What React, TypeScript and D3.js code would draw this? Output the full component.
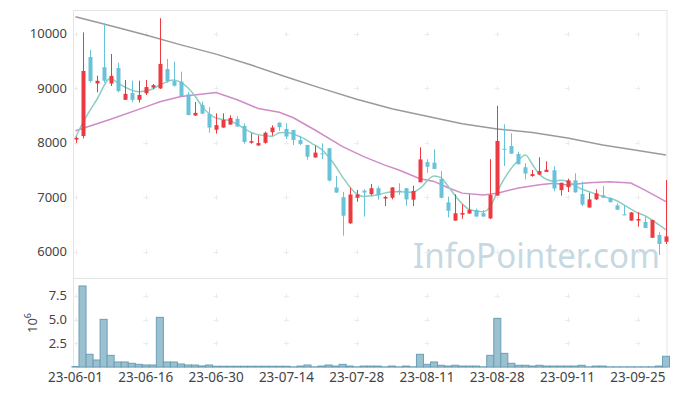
import React from 'react';
import * as d3 from 'd3';

// daily OHLC, 23-06-01 .. 23-10-05 (trading days only)
const opens = [8060, 8125, 9577, 9090, 9390, 9090, 9375, 8790, 8915, 8790, 8910, 9015, 9000, 9355, 9135, 9125, 8890, 8500, 8695, 8530,
  8240, 8280, 8335, 8440, 8310, 8000, 7950, 8000, 8195, 8370, 8255, 8235, 8050, 7960, 7730, 7805, 7900, 7180, 7000, 6520,
  6990, 7120, 7055, 7165, 6975, 6990, 7120, 7165, 6955, 7275, 7645, 7635, 7335, 6905, 6570, 6680, 6700, 6765, 6705, 6610,
  7030, 7890, 7940, 7795, 7550, 7390, 7415, 7465, 7495, 7130, 7185, 7310, 7060, 6810, 6960, 7035, 6985, 6850, 6685, 6570,
  6570, 6545, 6255, 6305, 6180];
const highs = [8110, 10030, 9706, 9234, 10197, 9632, 9472, 9154, 9142, 9142, 9154, 9080, 10290, 9540, 9491, 9308, 8936, 8750, 8756, 8653,
  8542, 8542, 8505, 8487, 8358, 8175, 8137, 8205, 8321, 8375, 8358, 8240, 8125, 7965, 7947, 7990, 7905, 7390, 7096, 7175,
  7133, 7145, 7243, 7200, 7028, 7182, 7256, 7170, 7212, 7918, 7697, 7880, 7482, 7010, 7053, 6870, 7053, 6790, 6765, 7697,
  8680, 8340, 8175, 7837, 7623, 7500, 7734, 7660, 7570, 7267, 7340, 7440, 7286, 7083, 7145, 7207, 6995, 6887, 6855, 6725,
  6723, 6640, 6585, 6355, 7316];
const lows = [8000, 8080, 9105, 8928, 9105, 9044, 8928, 8787, 8745, 8740, 8879, 8990, 8990, 9105, 9031, 8836, 8505, 8498, 8530, 8186,
  8168, 8278, 8333, 8296, 7984, 7984, 7947, 7984, 8131, 8220, 8070, 7960, 7960, 7690, 7727, 7700, 7290, 7083, 6293, 6510,
  6918, 6643, 7035, 6955, 6838, 6960, 7040, 6845, 6838, 7274, 7451, 7519, 6980, 6630, 6568, 6605, 6697, 6642, 6642, 6600,
  7028, 7574, 7800, 7605, 7330, 7375, 7414, 7464, 7110, 7030, 7096, 7083, 6838, 6808, 6950, 6991, 6900, 6771, 6670, 6565,
  6458, 6434, 6250, 5938, 6140];
const closes = [8090, 9320, 9136, 9140, 9140, 9230, 8950, 8900, 8790, 8880, 9025, 9060, 9450, 9135, 9050, 8860, 8510, 8550, 8535, 8280,
  8325, 8420, 8455, 8300, 8015, 8030, 7995, 8185, 8280, 8290, 8115, 8050, 7980, 7745, 7820, 7790, 7305, 7085, 6660, 7050,
  7050, 7085, 7165, 7035, 7005, 7180, 7095, 6960, 7115, 7695, 7560, 7520, 6990, 6750, 6705, 6710, 6765, 6645, 6645, 7040,
  8035, 7870, 7800, 7605, 7435, 7425, 7480, 7505, 7160, 7265, 7310, 7090, 6865, 6960, 7070, 6990, 6910, 6770, 6675, 6720,
  6600, 6435, 6580, 6140, 6280];
// volume, millions of shares
const volumes = [0.05, 8.55, 1.34, 0.74, 5.03, 1.23, 0.53, 0.53, 0.39, 0.28, 0.21, 0.21, 5.24, 0.53, 0.53, 0.32, 0.21, 0.21, 0.11, 0.21,
  0.08, 0.08, 0.08, 0.08, 0.08, 0.08, 0.08, 0.08, 0.08, 0.08, 0.08, 0.02, 0.1, 0.21, 0.02, 0.1, 0.21, 0.1, 0.28, 0.1,
  0.02, 0.1, 0.1, 0.1, 0.02, 0.1, 0.02, 0.1, 0.02, 1.34, 0.28, 0.53, 0.18, 0.1, 0.18, 0.1, 0.1, 0.1, 0.02, 1.23,
  5.13, 1.44, 0.39, 0.18, 0.18, 0.1, 0.18, 0.1, 0.1, 0.1, 0.1, 0.1, 0.18, 0.02, 0.1, 0.1, 0.02, 0.02, 0.02, 0.02,
  0.02, 0.02, 0.02, 0.1, 1.13];

// moving averages: [day index, price]
const ma5 = [[0, 8094], [1, 8359], [3, 8787], [5, 9186], [6, 9100], [9, 8940], [11, 8990], [12, 9063], [14, 9155], [15, 9110],
  [17, 8860], [18, 8670], [20, 8455], [22, 8406], [23, 8340], [25, 8190], [26, 8150], [28, 8120], [29, 8186], [30, 8190],
  [32, 8108], [34, 7960], [35, 7880], [37, 7570], [38, 7370], [40, 7060], [41, 7015], [43, 7045], [45, 7101], [46, 7101],
  [48, 7090], [49, 7164], [51, 7390], [52, 7360], [53, 7200], [55, 6880], [56, 6775], [58, 6734], [59, 6826], [60, 7100],
  [61, 7340], [63, 7680], [64, 7776], [65, 7600], [66, 7420], [68, 7298], [69, 7310], [70, 7290], [72, 7150], [73, 7105],
  [75, 7015], [77, 6935], [78, 6860], [80, 6710], [81, 6660], [83, 6490], [84, 6400]];
const ma20 = [[0, 8223], [5, 8432], [10, 8660], [12, 8756], [15, 8850], [20, 8925], [23, 8790], [26, 8630], [29, 8560], [31, 8460],
  [34, 8240], [38, 7929], [41, 7745], [44, 7590], [46, 7500], [49, 7340], [51, 7290], [53, 7175], [55, 7075], [58, 7040],
  [60, 7072], [63, 7170], [66, 7230], [68, 7256], [70, 7225], [73, 7267], [76, 7285], [79, 7260], [81, 7130], [84, 6920]];
const ma120 = [[0, 10318], [5, 10150], [10, 9980], [15, 9800], [20, 9630], [25, 9430], [30, 9210], [35, 9000], [40, 8800], [45, 8625],
  [50, 8490], [55, 8350], [60, 8255], [65, 8190], [70, 8090], [75, 7960], [80, 7860], [84, 7776]];

const tickIdx = [0, 10, 20, 30, 40, 50, 60, 70, 80];
const tickLabels = ['23-06-01', '23-06-16', '23-06-30', '23-07-14', '23-07-28', '23-08-11', '23-08-28', '23-09-11', '23-09-25'];
const priceTicks = [6000, 7000, 8000, 9000, 10000];
const volTicks = [2.5, 5, 7.5];

const W = 677, H = 396;
const L = 73.5, R = 667;
const top = 10, priceBottom = 278, volBottom = 367;
const font = '"Noto Sans", sans-serif';

export default function App() {
  const x = d3.scaleLinear().domain([0, 84]).range([75.5, 666]);
  const y = d3.scaleLinear().domain([5515, 10441]).range([priceBottom, top]);
  const yv = d3.scaleLinear().domain([0, 9.39]).range([volBottom, priceBottom]);
  const step = x(1) - x(0);

  const line = d3.line<number[]>().x(d => x(d[0])).y(d => y(d[1]));
  const smooth = d3.line<number[]>().x(d => x(d[0])).y(d => y(d[1])).curve(d3.curveMonotoneX);

  const up = '#ec3a40';
  const down = '#68c2d8';

  // little "+" marks where the grid lines would cross
  const crosses: JSX.Element[] = [];
  tickIdx.forEach((t, i) => {
    [...priceTicks.map(v => y(v)), ...volTicks.map(v => yv(v))].forEach((yy, j) => {
      crosses.push(
        <g key={`c${i}-${j}`} stroke="#ececec" strokeWidth={1}>
          <line x1={x(t) - 2.5} x2={x(t) + 2.5} y1={Math.round(yy) + 0.5} y2={Math.round(yy) + 0.5} />
          <line x1={Math.round(x(t)) + 0.5} x2={Math.round(x(t)) + 0.5} y1={yy - 2.5} y2={yy + 2.5} />
        </g>
      );
    });
  });

  return (
    <svg width={W} height={H} style={{ position: 'absolute', left: 0, top: 0, background: '#fff' }}
      fontFamily={font}>
      {/* watermark */}
      <text x={660} y={268} textAnchor="end" fontSize={34} fill="#c6d9e3" textLength={247}
        lengthAdjust="spacingAndGlyphs">InfoPointer.com</text>

      {/* frames */}
      <rect x={L} y={top + 0.5} width={R - L} height={priceBottom - top} fill="none" stroke="#e4e4e4" />
      <rect x={L} y={priceBottom + 0.5} width={R - L} height={volBottom - priceBottom} fill="none" stroke="#e4e4e4" />
      {crosses}

      {/* moving averages */}
      <path d={line(ma120) || ''} fill="none" stroke="#9a9a9a" strokeWidth={1.5} />
      <path d={line(ma20) || ''} fill="none" stroke="#cf8cc8" strokeWidth={1.5} />
      <path d={smooth(ma5) || ''} fill="none" stroke="#8ccfc2" strokeWidth={1.5} />

      {/* candles */}
      {opens.map((o, i) => {
        const c = closes[i];
        const col = c >= o ? up : down;
        const cx = Math.round(x(i)) + 0.5;
        const y1 = y(Math.max(o, c));
        const h = Math.max(1, y(Math.min(o, c)) - y1);
        return (
          <g key={`k${i}`}>
            <line x1={cx} x2={cx} y1={y(highs[i])} y2={y(lows[i])} stroke={col} strokeWidth={1} />
            <rect x={cx - 2} y={y1} width={4} height={h} fill={col} />
          </g>
        );
      })}

      {/* volume */}
      {volumes.map((v, i) => (
        <rect key={`v${i}`} x={x(i) - step / 2} y={yv(v)} width={step} height={volBottom - yv(v)}
          fill="#9bc1d0" stroke="#6b9fb5" strokeWidth={1} />
      ))}

      {/* price axis labels */}
      {priceTicks.map(t => (
        <text key={`p${t}`} x={67} y={y(t) + 4.5} textAnchor="end" fontSize={13} fill="#444">{t}</text>
      ))}
      {volTicks.map(t => (
        <text key={`vt${t}`} x={67} y={yv(t) + 4.5} textAnchor="end" fontSize={13} fill="#444">{t.toFixed(1)}</text>
      ))}
      <text transform="translate(37,323) rotate(-90)" textAnchor="middle" fontSize={13} fill="#444">
        10<tspan dy={-6} fontSize={9}>6</tspan>
      </text>

      {/* date labels */}
      {tickIdx.map((t, i) => (
        <text key={`d${t}`} x={x(t)} y={382} textAnchor="middle" fontSize={13.5} fill="#444">{tickLabels[i]}</text>
      ))}
    </svg>
  );
}
